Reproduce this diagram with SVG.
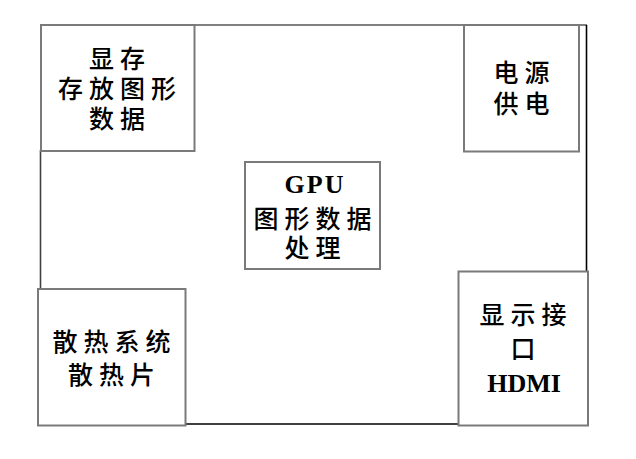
<svg xmlns="http://www.w3.org/2000/svg" width="636" height="459" viewBox="0 0 636 459">
<style>
.box{fill:#fff;stroke:#7a7a7a;stroke-width:2}
.cj{font-family:"Noto Sans CJK SC","Noto Sans",sans-serif;font-size:25px;font-weight:500;fill:#000;text-anchor:middle;letter-spacing:6px}
.lt{font-family:"Liberation Serif","Times New Roman",serif;font-size:26px;font-weight:bold;fill:#000;text-anchor:middle}
.ln{fill:none;stroke:#000;stroke-width:1.6}
</style>
<rect width="636" height="459" fill="#fff"/>
<g id="connectors">
<line class="ln" x1="41" y1="25" x2="587" y2="25" style="stroke:#808080;stroke-width:2"/>
<line class="ln" x1="586.5" y1="25" x2="586.5" y2="272"/>
<line class="ln" x1="185" y1="424" x2="459" y2="424"/>
<line class="ln" x1="40.5" y1="150" x2="40.5" y2="290" style="stroke:#404040"/>
</g>
<g id="vram">
<rect class="box" x="41" y="25" width="153.5" height="126"/>
<text class="cj" x="120" y="67.5">显存</text>
<text class="cj" x="120" y="97.5">存放图形</text>
<text class="cj" x="120" y="128">数据</text>
</g>
<g id="power">
<rect class="box" x="464" y="25" width="115" height="126.5"/>
<text class="cj" x="524.5" y="81.5">电源</text>
<text class="cj" x="524.5" y="113">供电</text>
</g>
<g id="gpu">
<rect class="box" x="245" y="162" width="135" height="107"/>
<text class="lt" x="315" y="192.5" style="letter-spacing:2px">GPU</text>
<text class="cj" x="315.5" y="228">图形数据</text>
<text class="cj" x="315.5" y="257">处理</text>
</g>
<g id="cooling">
<rect class="box" x="38" y="289" width="147.5" height="136.5"/>
<text class="cj" x="114.5" y="350.5">散热系统</text>
<text class="cj" x="114.5" y="384">散热片</text>
</g>
<g id="hdmi">
<rect class="box" x="458.5" y="271.5" width="129.5" height="154"/>
<text class="cj" x="526" y="324">显示接</text>
<text class="cj" x="526" y="357.5">口</text>
<text class="lt" x="524" y="391.5">HDMI</text>
</g>
</svg>
